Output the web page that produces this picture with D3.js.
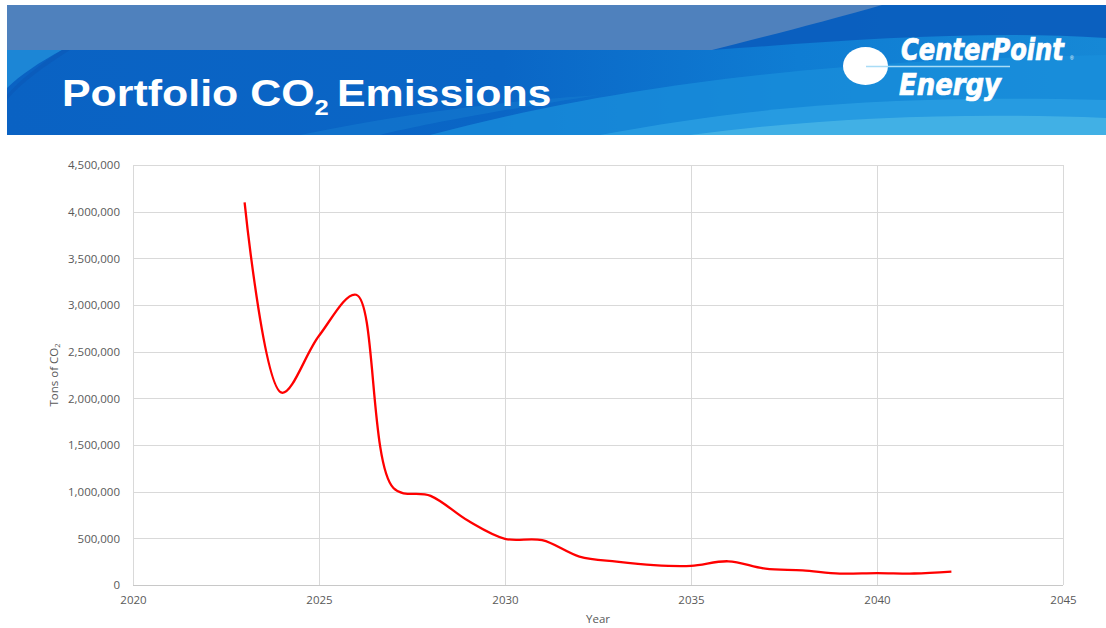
<!DOCTYPE html>
<html>
<head>
<meta charset="utf-8">
<script src="https://cdn.jsdelivr.net/npm/d3@7"></script>
<style>
  html, body { margin: 0; padding: 0; background: #ffffff; }
  svg { display: block; }
</style>
</head>
<body>
<svg id="chart" width="1106" height="628"></svg>
<script>
// ---------- data ----------
const years = [2023, 2024, 2025, 2026, 2027, 2028, 2029, 2030, 2031, 2032,
               2033, 2034, 2035, 2036, 2037, 2038, 2039, 2040, 2041, 2042];
const emissions = [4100000, 2060000, 2670000, 3110000, 1040000, 955000, 690000, 495000, 480000, 305000,
                   250000, 212000, 205000, 254000, 175000, 157000, 122000, 128000, 123000, 143000];
const xTicks = [2020, 2025, 2030, 2035, 2040, 2045];
const yTicks = [0, 500000, 1000000, 1500000, 2000000, 2500000, 3000000, 3500000, 4000000, 4500000];
const titleMain = "Portfolio CO";
const titleSub = "2";
const titleEnd = "Emissions";
const yLabelMain = "Tons of CO";
const yLabelSub = "2";
const xLabel = "Year";
const logoLine1 = "CenterPoint";
const logoLine2 = "Energy";

// ---------- layout ----------
const svg = d3.select("#chart");
const plot = { left: 133, right: 1063, top: 165, bottom: 585 };

const defs = svg.append("defs");
const g1 = defs.append("linearGradient").attr("id", "hdr").attr("x1", "0").attr("x2", "1").attr("y1", "0").attr("y2", "0");
g1.append("stop").attr("offset", "0").attr("stop-color", "#0a62c3");
g1.append("stop").attr("offset", "0.45").attr("stop-color", "#0a66c6");
g1.append("stop").attr("offset", "0.72").attr("stop-color", "#0f7dd3");
g1.append("stop").attr("offset", "1").attr("stop-color", "#1688d6");

// ---------- header banner ----------
const hdr = svg.append("g");
hdr.append("rect").attr("x", 7).attr("y", 5).attr("width", 1099).attr("height", 130).attr("fill", "url(#hdr)");
// top-right darker area
hdr.append("path").attr("d", "M600,5 L1106,5 L1106,38 C980,30 850,40 712,50 L600,50 Z").attr("fill", "#0a5cbd").attr("opacity", 0.9);
// light waves on the right
hdr.append("path").attr("d", "M430,135 C600,90 800,60 1106,55 L1106,135 Z").attr("fill", "#1a8fdb").attr("opacity", 0.75);
hdr.append("path").attr("d", "M600,135 C760,105 900,95 1106,100 L1106,135 Z").attr("fill", "#2a9fe2").attr("opacity", 0.8);
hdr.append("path").attr("d", "M690,135 C820,118 960,112 1106,118 L1106,135 Z").attr("fill", "#45b2e6").attr("opacity", 0.9);
hdr.append("path").attr("d", "M300,135 C420,110 520,100 600,95 C500,110 420,125 380,135 Z").attr("fill", "#1479cf").attr("opacity", 0.6);
// left diagonal light stripe
hdr.append("path").attr("d", "M7,50 L62,50 C40,62 20,75 7,88 Z").attr("fill", "#1c86d6");
hdr.append("path").attr("d", "M7,95 C20,80 40,64 62,50 L70,50 C45,66 22,82 7,100 Z").attr("fill", "#0a58b8").attr("opacity", 0.6);
// top steel-blue band
hdr.append("path").attr("d", "M7,5 L882,5 C830,20 760,38 712,50 L7,50 Z").attr("fill", "#4f81bd");

// title
const title = hdr.append("text")
  .attr("transform", "translate(62,106) scale(1.16,1)")
  .attr("font-family", "'Liberation Sans', Arial, sans-serif")
  .attr("font-weight", "bold")
  .attr("font-size", 37)
  .attr("fill", "#ffffff");
title.append("tspan").text(titleMain);
title.append("tspan").attr("font-size", 22).attr("dy", 9).text(titleSub);
title.append("tspan").attr("dy", -9).attr("dx", 7).text(titleEnd);

// logo
hdr.append("ellipse").attr("cx", 865.5).attr("cy", 66).attr("rx", 22.5).attr("ry", 19).attr("fill", "#ffffff");
hdr.append("line").attr("x1", 866).attr("x2", 1010).attr("y1", 66.5).attr("y2", 66.5)
  .attr("stroke", "#a9dcf6").attr("stroke-width", 1.3);
const logoFont = "'Liberation Sans Narrow', 'DejaVu Sans Condensed', 'Liberation Sans', sans-serif";
function fitText(str, x0, base, size, width) {
  const t = hdr.append("text")
    .attr("font-family", logoFont).attr("font-weight", "bold").attr("font-style", "italic")
    .attr("font-size", size).attr("fill", "#ffffff")
    .attr("stroke", "#ffffff").attr("stroke-width", 0.7)
    .text(str);
  const w = t.node().getComputedTextLength() || width;
  t.attr("transform", `translate(${x0},${base}) scale(${width / w},1)`);
  return t;
}
fitText(logoLine1, 901, 60, 30, 163);
fitText(logoLine2, 899, 95, 30, 102);
hdr.append("text").attr("x", 1070).attr("y", 60)
  .attr("font-family", "'Liberation Sans', sans-serif").attr("font-size", 5).attr("fill", "#ffffff")
  .text("\u00ae");

// ---------- scales ----------
const x = d3.scaleLinear().domain([2020, 2045]).range([plot.left, plot.right]);
const y = d3.scaleLinear().domain([0, 4500000]).range([plot.bottom, plot.top]);

const labelFont = "'Open Sans', 'Noto Sans', sans-serif";
const labelColor = "#595959";

// gridlines
const grid = svg.append("g");
grid.selectAll("line.h").data(yTicks).join("line")
  .attr("x1", plot.left).attr("x2", plot.right)
  .attr("y1", d => Math.round(y(d)) + 0.5).attr("y2", d => Math.round(y(d)) + 0.5)
  .attr("stroke", d => d === 0 ? "#c8c8c8" : "#d9d9d9").attr("stroke-width", 1);
grid.selectAll("line.v").data(xTicks).join("line")
  .attr("x1", d => Math.round(x(d)) + 0.5).attr("x2", d => Math.round(x(d)) + 0.5)
  .attr("y1", plot.top).attr("y2", plot.bottom)
  .attr("stroke", "#d9d9d9").attr("stroke-width", 1);

// axes
const yAxis = svg.append("g").attr("transform", `translate(${plot.left},0)`)
  .call(d3.axisLeft(y).tickValues(yTicks).tickFormat(d3.format(",")).tickSize(0).tickPadding(13));
yAxis.select(".domain").remove();
yAxis.selectAll("text").attr("font-family", labelFont).attr("font-size", 11.5).attr("fill", labelColor);

const xAxis = svg.append("g").attr("transform", `translate(0,${plot.bottom})`)
  .call(d3.axisBottom(x).tickValues(xTicks).tickFormat(d3.format("d")).tickSize(0).tickPadding(11));
xAxis.select(".domain").remove();
xAxis.selectAll("text").attr("font-family", labelFont).attr("font-size", 11.5).attr("fill", labelColor);

// axis titles
svg.append("text").attr("x", (plot.left + plot.right) / 2).attr("y", 623)
  .attr("text-anchor", "middle").attr("font-family", labelFont).attr("font-size", 11.5).attr("fill", labelColor)
  .text(xLabel);
const yt = svg.append("text").attr("transform", "translate(58,375) rotate(-90)")
  .attr("text-anchor", "middle").attr("font-family", labelFont).attr("font-size", 11.5).attr("fill", labelColor);
yt.append("tspan").text(yLabelMain);
yt.append("tspan").attr("font-size", 7.5).attr("dy", 2).text(yLabelSub);

// ---------- line ----------
const data = years.map((yr, i) => ({ year: yr, value: emissions[i] }));
const line = d3.line()
  .x(d => x(d.year))
  .y(d => y(d.value))
  .curve(d3.curveCatmullRom.alpha(0.5));
svg.append("path").datum(data)
  .attr("d", line)
  .attr("fill", "none")
  .attr("stroke", "#ff0000")
  .attr("stroke-width", 2.3)
  .attr("stroke-linejoin", "round");
</script>
</body>
</html>
